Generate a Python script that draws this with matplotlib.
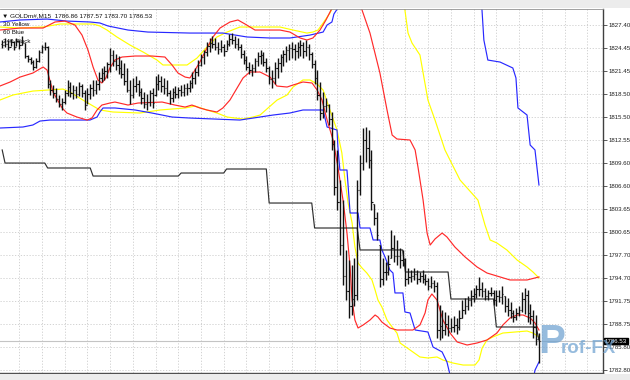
import numpy as np
import matplotlib
matplotlib.use("Agg")
import matplotlib.pyplot as plt
from matplotlib.patches import Rectangle
import matplotlib.transforms as mtransforms

# ---------------- data (GOLDm#, M15) ----------------
highs = [1825.5, 1825.7, 1825.5, 1825.6, 1825.3, 1825.7, 1825.5, 1826.0, 1825.1, 1823.5,
         1823.3, 1822.9, 1823.1, 1824.2, 1824.8, 1825.2, 1824.7, 1820.3, 1819.6, 1819.3,
         1818.4, 1818.0, 1819.0, 1820.3, 1820.0, 1819.6, 1819.5, 1820.0, 1819.8, 1819.0,
         1819.3, 1819.8, 1820.3, 1820.3, 1821.3, 1821.8, 1822.1, 1822.6, 1824.4, 1824.2,
         1823.7, 1823.4, 1822.9, 1822.5, 1821.8, 1820.3, 1820.5, 1820.8, 1820.3, 1819.3,
         1818.7, 1818.5, 1819.0, 1819.3, 1820.8, 1821.1, 1820.8, 1820.5, 1820.3, 1819.0,
         1819.3, 1819.5, 1819.4, 1819.6, 1819.8, 1819.9, 1820.3, 1821.3, 1821.8, 1822.9,
         1823.7, 1824.2, 1825.2, 1825.7, 1826.0, 1825.7, 1825.2, 1825.5, 1824.9, 1825.5,
         1826.2, 1826.4, 1826.0, 1825.7, 1824.9, 1824.2, 1823.4, 1822.6, 1822.4, 1823.1,
         1823.9, 1824.2, 1823.9, 1823.1, 1822.1, 1821.6, 1822.6, 1823.1, 1823.7, 1824.2,
         1824.7, 1824.9, 1825.2, 1824.9, 1825.2, 1825.5, 1825.2, 1825.5, 1824.9, 1823.9,
         1822.9, 1821.6, 1820.0, 1818.7, 1818.0, 1817.2, 1816.2, 1812.5, 1811.2, 1807.4,
         1804.8, 1798.3, 1797.0, 1796.4, 1797.3, 1807.4, 1810.6, 1814.1, 1814.2, 1813.8,
         1811.2, 1804.2, 1803.2, 1798.9, 1797.3, 1796.7, 1797.7, 1800.9, 1800.2, 1799.6,
         1798.6, 1798.3, 1797.3, 1796.0, 1795.7, 1796.0, 1795.7, 1795.5, 1795.7, 1795.2,
         1794.7, 1794.9, 1794.4, 1794.2, 1791.2, 1790.5, 1790.3, 1789.9, 1789.5, 1789.8,
         1789.5, 1790.5, 1791.8, 1792.1, 1792.4, 1793.1, 1793.4, 1793.8, 1794.8, 1794.2,
         1793.4, 1793.1, 1793.5, 1793.1, 1793.1, 1793.1, 1793.6, 1792.4, 1792.1, 1791.6,
         1790.5, 1790.8, 1791.1, 1792.9, 1793.4, 1793.1, 1791.3, 1790.5, 1789.9, 1787.57]

lows = [1824.4, 1824.6, 1824.2, 1824.7, 1824.2, 1824.7, 1824.3, 1824.8, 1823.1, 1822.6,
        1822.4, 1821.6, 1821.8, 1822.6, 1823.8, 1824.2, 1819.3, 1818.4, 1818.0, 1817.4,
        1816.8, 1816.4, 1817.2, 1818.2, 1818.1, 1817.8, 1818.0, 1818.2, 1818.1, 1816.4,
        1817.2, 1817.8, 1818.2, 1818.5, 1819.0, 1820.0, 1820.3, 1820.5, 1821.3, 1822.1,
        1821.6, 1821.1, 1820.5, 1819.6, 1818.7, 1817.2, 1818.0, 1818.7, 1818.2, 1817.2,
        1816.7, 1816.4, 1816.9, 1816.7, 1818.2, 1819.0, 1818.7, 1818.5, 1818.2, 1817.2,
        1817.4, 1818.0, 1818.0, 1818.2, 1818.2, 1818.4, 1818.7, 1819.3, 1819.8, 1820.8,
        1822.1, 1822.4, 1823.4, 1823.9, 1824.4, 1824.2, 1823.7, 1823.9, 1823.4, 1824.2,
        1824.7, 1824.9, 1824.4, 1824.2, 1823.1, 1822.4, 1821.6, 1821.1, 1820.8, 1821.3,
        1822.1, 1822.4, 1822.1, 1821.3, 1819.8, 1819.3, 1819.8, 1820.5, 1821.3, 1822.1,
        1822.6, 1822.9, 1823.1, 1822.9, 1823.1, 1823.4, 1823.1, 1823.4, 1822.9, 1821.8,
        1819.8, 1817.7, 1815.1, 1815.4, 1816.2, 1814.5, 1811.2, 1805.4, 1803.5, 1797.7,
        1793.8, 1791.8, 1789.5, 1789.9, 1791.1, 1791.8, 1805.4, 1808.6, 1809.7, 1808.9,
        1803.5, 1801.5, 1799.6, 1793.5, 1793.8, 1794.4, 1795.1, 1797.3, 1796.7, 1796.4,
        1796.0, 1796.2, 1793.6, 1793.9, 1794.2, 1794.4, 1793.9, 1794.2, 1794.0, 1793.8,
        1793.1, 1793.4, 1792.9, 1786.9, 1786.7, 1786.9, 1787.3, 1787.2, 1787.7, 1787.7,
        1787.4, 1788.0, 1789.5, 1790.0, 1790.5, 1791.1, 1791.6, 1792.1, 1792.4, 1792.2,
        1791.8, 1791.8, 1792.4, 1791.2, 1791.1, 1791.6, 1791.3, 1790.3, 1789.8, 1789.5,
        1789.0, 1789.3, 1789.8, 1790.3, 1790.0, 1789.0, 1788.7, 1786.9, 1786.0, 1783.70]

opens = [1825.0, 1824.8, 1825.0, 1824.6, 1825.2, 1824.5, 1825.3, 1824.8, 1825.1, 1823.4,
         1823.0, 1822.6, 1822.0, 1822.8, 1823.9, 1824.5, 1824.6, 1819.8, 1819.0, 1818.6,
         1817.8, 1817.2, 1817.5, 1818.6, 1819.4, 1818.6, 1819.0, 1818.5, 1819.5, 1818.6,
         1817.0, 1818.5, 1819.3, 1819.0, 1819.8, 1820.5, 1821.2, 1821.5, 1822.3, 1823.5,
         1822.8, 1822.2, 1821.8, 1821.0, 1820.2, 1819.0, 1818.3, 1819.5, 1819.8, 1818.8,
         1818.0, 1817.2, 1817.5, 1818.6, 1818.3, 1819.8, 1820.2, 1819.5, 1819.2, 1818.6,
         1818.0, 1818.7, 1818.5, 1819.0, 1818.8, 1819.3, 1819.2, 1819.9, 1820.6, 1821.3,
         1822.2, 1823.3, 1823.9, 1824.7, 1825.1, 1825.0, 1824.6, 1824.3, 1824.6, 1824.0,
         1825.0, 1825.6, 1825.4, 1825.0, 1824.6, 1823.6, 1822.9, 1822.0, 1821.6, 1821.9,
         1822.8, 1823.4, 1823.5, 1822.6, 1821.8, 1820.4, 1820.6, 1821.8, 1822.5, 1823.3,
         1823.6, 1824.2, 1824.4, 1824.3, 1824.0, 1824.6, 1824.8, 1824.0, 1824.6, 1823.6,
         1822.4, 1820.6, 1818.3, 1816.0, 1816.9, 1817.0, 1815.2, 1812.0, 1806.5, 1804.5,
         1799.0, 1795.0, 1793.0, 1791.0, 1792.0, 1792.5, 1806.0, 1809.5, 1812.5, 1811.5,
         1810.0, 1804.2, 1802.5, 1798.9, 1794.5, 1795.5, 1795.4, 1797.3, 1798.5, 1797.5,
         1797.5, 1797.0, 1797.2, 1794.6, 1794.8, 1795.0, 1795.2, 1794.6, 1795.0, 1794.6,
         1794.3, 1793.7, 1794.0, 1793.6, 1788.0, 1788.5, 1788.0, 1788.8, 1788.2, 1788.4,
         1788.6, 1788.3, 1789.5, 1790.6, 1791.0, 1791.8, 1792.3, 1792.6, 1793.2, 1793.3,
         1793.0, 1792.4, 1792.7, 1792.8, 1791.9, 1792.4, 1792.2, 1792.4, 1791.0, 1790.6,
         1790.2, 1789.6, 1790.2, 1790.6, 1792.0, 1792.5, 1790.2, 1789.8, 1788.3, 1786.86]

closes = [1824.8, 1825.0, 1824.6, 1825.2, 1824.5, 1825.3, 1824.8, 1825.1, 1823.4, 1823.0,
          1822.6, 1822.0, 1822.8, 1823.9, 1824.5, 1824.6, 1819.8, 1819.0, 1818.6, 1817.8,
          1817.2, 1817.5, 1818.6, 1819.4, 1818.6, 1819.0, 1818.5, 1819.5, 1818.6, 1817.0,
          1818.5, 1819.3, 1819.0, 1819.8, 1820.5, 1821.2, 1821.5, 1822.3, 1823.5, 1822.8,
          1822.2, 1821.8, 1821.0, 1820.2, 1819.0, 1818.3, 1819.5, 1819.8, 1818.8, 1818.0,
          1817.2, 1817.5, 1818.6, 1817.3, 1819.8, 1820.2, 1819.5, 1819.2, 1818.6, 1818.0,
          1818.7, 1818.5, 1819.0, 1818.8, 1819.3, 1819.2, 1819.9, 1820.6, 1821.3, 1822.2,
          1823.3, 1823.9, 1824.7, 1825.1, 1825.0, 1824.6, 1824.3, 1824.6, 1824.0, 1825.0,
          1825.6, 1825.4, 1825.0, 1824.6, 1823.6, 1822.9, 1822.0, 1821.6, 1821.9, 1822.8,
          1823.4, 1823.5, 1822.6, 1821.8, 1820.4, 1820.6, 1821.8, 1822.5, 1823.3, 1823.6,
          1824.2, 1824.4, 1824.3, 1824.0, 1824.6, 1824.8, 1824.0, 1824.6, 1823.6, 1822.4,
          1820.6, 1818.3, 1816.0, 1816.9, 1817.0, 1815.2, 1812.0, 1806.5, 1804.5, 1799.0,
          1795.0, 1793.0, 1791.0, 1792.0, 1792.5, 1806.0, 1809.5, 1812.5, 1811.5, 1810.0,
          1804.5, 1802.5, 1800.2, 1794.5, 1795.5, 1795.4, 1796.5, 1798.5, 1797.5, 1797.5,
          1797.0, 1797.2, 1794.6, 1794.8, 1795.0, 1795.2, 1794.6, 1795.0, 1794.6, 1794.3,
          1793.7, 1794.0, 1793.6, 1788.0, 1788.5, 1788.0, 1788.8, 1788.2, 1788.4, 1788.6,
          1788.3, 1789.5, 1790.6, 1791.0, 1791.8, 1792.3, 1792.6, 1793.2, 1793.3, 1793.0,
          1792.4, 1792.7, 1792.8, 1791.9, 1792.4, 1792.2, 1792.6, 1791.0, 1790.6, 1790.2,
          1789.6, 1790.2, 1790.6, 1792.0, 1792.5, 1790.2, 1789.8, 1788.3, 1786.86, 1786.53]

# Bollinger-type envelopes (bar index, price)
red_up_x = [-0.8, 6.3, 14.4, 18.6, 22.1, 25.6, 28.1, 30.2, 32.0, 33.7, 35.1, 36.5, 37.9, 39.7,
            42.2, 46.8, 52.7, 57.3, 59.8, 61.9, 64.4, 66.1, 67.9, 69.6, 72.1, 74.2, 76.7, 80.2,
            83.0, 85.5, 89.0, 93.2, 97.8, 101.3, 104.9, 107.3, 109.4, 111.9, 114.0, 115.8, 117.5,
            125.3, 126.7, 129.5, 133.0, 135.5, 137.3, 139.0, 143.6, 145.4, 146.4, 148.2, 149.6,
            150.7, 152.4, 154.9, 156.6, 159.4, 163.0, 167.2, 170.7, 175.3, 178.8, 184.8, 189.0]
red_up_y = [1826.75, 1827.01, 1827.01, 1827.79, 1827.91, 1827.40, 1826.10, 1824.17, 1821.97,
            1820.29, 1819.90, 1820.55, 1821.84, 1822.87, 1823.26, 1823.39, 1823.39, 1823.26,
            1822.23, 1821.19, 1820.67, 1820.55, 1821.58, 1822.61, 1824.42, 1825.85, 1827.01,
            1827.79, 1828.05, 1827.53, 1826.75, 1826.75, 1826.75, 1826.49, 1825.72, 1825.46,
            1825.72, 1826.75, 1828.05, 1829.34, 1831.28, 1831.28, 1829.34, 1826.36, 1821.19,
            1816.41, 1813.17, 1812.66, 1812.53, 1811.24, 1809.04, 1804.77, 1800.50, 1798.95,
            1799.73, 1800.50, 1799.99, 1798.69, 1797.40, 1796.11, 1795.33, 1794.82, 1794.43,
            1794.43, 1794.82]

red_lo_x = [-0.8, 2.8, 6.3, 10.8, 14.4, 15.8, 17.9, 21.1, 22.8, 26.3, 29.9, 31.6, 33.4, 35.1,
            37.9, 39.7, 44.3, 47.8, 56.3, 60.8, 64.4, 66.8, 69.6, 72.1, 75.6, 77.7, 80.2, 82.7,
            84.8, 87.2, 90.8, 94.3, 96.7, 100.3, 102.4, 105.9, 109.1, 110.9, 112.6, 114.4,
            116.5, 118.2, 120.0, 121.4, 122.5, 123.2, 124.2, 125.3, 127.1, 129.5, 131.3, 132.3,
            133.7, 136.5, 139.0, 144.6, 147.1, 148.9, 149.9, 151.3, 153.1, 155.2, 157.7, 160.2,
            163.7, 167.2, 170.7, 174.2, 176.3, 178.8, 181.3, 183.4, 185.9, 187.6, 189.0]
red_lo_y = [1819.51, 1820.03, 1820.67, 1821.19, 1821.97, 1821.58, 1818.73, 1816.67, 1816.02,
            1815.50, 1815.11, 1815.37, 1816.41, 1817.05, 1817.31, 1817.44, 1817.05, 1817.31,
            1817.44, 1817.05, 1816.79, 1817.05, 1816.67, 1816.41, 1816.15, 1816.67, 1817.70,
            1819.25, 1820.55, 1821.32, 1821.32, 1820.67, 1819.51, 1819.38, 1819.64, 1820.03,
            1819.90, 1818.99, 1817.70, 1815.11, 1812.53, 1809.04, 1804.77, 1800.50, 1796.11,
            1791.84, 1789.25, 1788.22, 1788.61, 1789.25, 1789.90, 1789.64, 1788.99, 1788.22,
            1787.96, 1787.96, 1788.61, 1790.16, 1791.84, 1792.62, 1791.84, 1789.25, 1787.57,
            1786.41, 1786.02, 1786.28, 1786.67, 1787.57, 1788.61, 1789.51, 1789.90, 1789.90,
            1789.51, 1788.87, 1787.96]

yel_up_x = [-0.8, 6.3, 14.4, 20.4, 32.0, 34.4, 36.9, 40.4, 45.0, 49.6, 54.5, 56.6, 65.1, 68.6,
            72.1, 75.6, 79.2, 83.7, 97.8, 102.4, 107.3, 109.4, 111.2, 113.0, 115.4, 116.8,
            117.9, 140.1, 141.8, 142.9, 144.3, 147.1, 149.9, 152.4, 155.9, 161.2, 167.5, 170.0,
            171.8, 174.2, 177.7, 181.3, 184.8, 186.9, 189.0]
yel_up_y = [1827.14, 1827.01, 1827.14, 1827.53, 1827.53, 1827.27, 1826.75, 1825.85, 1824.81,
            1823.91, 1822.87, 1822.23, 1822.23, 1823.13, 1824.55, 1825.85, 1826.49, 1827.14,
            1827.14, 1826.75, 1826.36, 1826.49, 1826.75, 1827.66, 1828.95, 1829.98, 1831.28,
            1831.28, 1829.34, 1826.36, 1825.07, 1823.52, 1817.70, 1815.11, 1811.24, 1807.36,
            1804.77, 1801.54, 1799.60, 1799.21, 1798.31, 1797.01, 1796.11, 1795.46, 1794.69]

yel_lo_x = [-0.8, 3.8, 10.8, 21.4, 23.9, 28.4, 34.4, 39.0, 48.5, 55.6, 64.4, 67.9, 72.1, 75.6,
            79.2, 84.8, 88.3, 90.8, 93.6, 96.8, 100.3, 102.4, 105.9, 108.4, 110.9, 113.0,
            115.4, 117.9, 119.6, 120.7, 121.8, 123.2, 124.2, 125.3, 126.7, 128.4, 130.2, 131.3,
            132.3, 133.7, 135.5, 137.3, 139.0, 140.1, 143.6, 147.1, 149.9, 153.1, 155.2, 158.7,
            162.3, 166.5, 167.9, 169.0, 170.7, 172.8, 176.3, 180.6, 184.8, 186.9, 189.0]
yel_lo_y = [1817.70, 1818.35, 1818.86, 1819.12, 1818.73, 1817.70, 1816.41, 1816.15, 1816.02,
            1816.41, 1816.67, 1816.92, 1816.41, 1816.02, 1815.50, 1815.24, 1815.50, 1815.76,
            1816.67, 1817.70, 1818.35, 1819.38, 1820.29, 1820.29, 1819.77, 1818.99, 1816.41,
            1813.82, 1810.85, 1807.36, 1804.38, 1801.80, 1798.69, 1796.62, 1795.98, 1795.33,
            1794.43, 1793.13, 1791.84, 1790.93, 1789.25, 1788.35, 1787.57, 1786.28, 1785.38,
            1784.47, 1784.34, 1784.47, 1784.08, 1783.69, 1783.43, 1783.43, 1784.08, 1785.63,
            1786.67, 1787.06, 1787.57, 1787.70, 1787.83, 1787.57, 1787.06]

blu_up_x = [-0.8, 6.3, 15.8, 22.8, 30.9, 34.4, 37.3, 40.8, 44.3, 51.3, 66.1, 77.7, 86.2, 94.3,
            101.3, 108.4, 113.0, 114.4, 116.1, 116.8, 118.2, 118.9, 167.5, 168.9, 169.6, 171.0,
            175.3, 179.8, 180.9, 181.6, 184.8, 185.9, 187.6, 189.0]
blu_up_y = [1827.79, 1828.05, 1828.17, 1827.91, 1827.79, 1827.66, 1827.27, 1827.01, 1826.75,
            1826.49, 1826.36, 1826.36, 1825.85, 1825.72, 1825.72, 1826.10, 1826.49, 1827.40,
            1827.79, 1828.82, 1829.60, 1831.28, 1831.28, 1829.60, 1825.46, 1822.87, 1822.61,
            1821.84, 1820.55, 1816.67, 1815.76, 1811.88, 1811.24, 1806.71]

blu_lo_x = [-0.8, 7.3, 10.8, 13.3, 16.8, 30.9, 33.4, 34.4, 35.5, 39.7, 46.8, 52.7, 59.8, 66.1,
            83.7, 95.4, 101.3, 105.9, 113.0, 114.4, 117.9, 118.2, 118.9, 121.4, 122.5, 125.3,
            126.0, 129.5, 130.6, 133.0, 133.7, 134.8, 136.5, 137.6, 138.3, 141.1, 141.8, 143.6,
            145.4, 149.9, 151.7, 154.9, 156.6, 157.7, 158.4, 186.6, 187.6, 189.0]
blu_lo_y = [1814.08, 1814.21, 1814.47, 1814.98, 1815.11, 1815.11, 1815.50, 1816.15, 1816.67,
            1816.67, 1816.41, 1816.02, 1815.50, 1815.37, 1815.11, 1815.76, 1816.02, 1816.41,
            1816.41, 1814.21, 1813.82, 1811.62, 1808.65, 1808.65, 1803.09, 1803.09, 1801.15,
            1801.15, 1799.60, 1799.60, 1798.31, 1797.40, 1795.72, 1795.33, 1792.75, 1792.75,
            1790.29, 1790.16, 1787.96, 1787.70, 1785.76, 1785.12, 1783.82, 1782.14, 1780.85,
            1780.85, 1782.76, 1783.82]

# H4 (240) line: level values and the bar where each level starts
black_levels = [1811.24, 1809.55, 1808.91, 1807.87, 1808.26, 1808.78, 1804.38, 1801.15,
                1798.31, 1795.46, 1791.97, 1788.35, 1786.67]
black_starts = [0, 1, 16, 32, 63, 79, 94, 110, 126, 142, 158, 174, 189]

ytick_vals = [1827.40, 1824.45, 1821.45, 1818.50, 1815.50, 1812.55, 1809.60, 1806.60,
              1803.65, 1800.65, 1797.70, 1794.70, 1791.75, 1788.75, 1785.80, 1782.80]
ytick_labels = ["1827.40", "1824.45", "1821.45", "1818.50", "1815.50", "1812.55", "1809.60",
                "1806.60", "1803.65", "1800.65", "1797.70", "1794.70", "1791.75", "1788.75",
                "1785.80", "1782.80"]
bid_price = 1786.53
header = "\u25BC GOLDm#,M15  1786.86 1787.57 1783.70 1786.53"
legend_items = ["30 Yellow", "60 Blue", "240 Black"]

# ---------------- figure ----------------
W, H = 630, 380
fig = plt.figure(figsize=(W / 100, H / 100), dpi=100)
fig.patch.set_facecolor("white")
fig.patches.append(Rectangle((0, 1 - 8 / H), 1, 8 / H, transform=fig.transFigure,
                             facecolor="#ececec", edgecolor="none", zorder=0))
fig.patches.append(Rectangle((0, 0), 1, 6 / H, transform=fig.transFigure,
                             facecolor="#ececec", edgecolor="none", zorder=0))

ax = fig.add_axes([0, 7 / H, 603 / W, 364 / H])
ax.set_facecolor("white")
ax.set_xlim(-0.775, 211.55)
ax.set_ylim(1782.40, 1829.47)

FONT = ["Liberation Sans", "DejaVu Sans"]

# grid
ax.set_xticks(np.arange(6, 212, 8))
ax.tick_params(axis="x", length=0, labelbottom=False)
ax.yaxis.tick_right()
ax.set_yticks(ytick_vals)
ax.set_yticklabels(ytick_labels, fontfamily=FONT, fontsize=4.4, color="#202020")
ax.tick_params(axis="y", length=3, width=0.6, color="#404040", pad=1)
ax.grid(True, color="#c6c6c6", linestyle=(0, (1.6, 2.2)), linewidth=0.55, zorder=0)
ax.set_axisbelow(True)

ax.spines["left"].set_visible(False)
ax.spines["right"].set_color("#404040")
ax.spines["right"].set_linewidth(1.0)
ax.spines["bottom"].set_color("#505050")
ax.spines["bottom"].set_linewidth(1.0)
ax.spines["top"].set_color("#909090")
ax.spines["top"].set_linewidth(0.6)

# bid line
ax.axhline(bid_price, color="#c4c4c4", lw=0.8, zorder=1)

n = len(highs)
x = np.arange(n)

# indicator lines
lw = 0.85
ax.plot(yel_up_x, yel_up_y, color="#ffff00", lw=lw, zorder=2)
ax.plot(yel_lo_x, yel_lo_y, color="#ffff00", lw=lw, zorder=2)
ax.plot(blu_up_x, blu_up_y, color="#2828ff", lw=lw, zorder=2)
ax.plot(blu_lo_x, blu_lo_y, color="#2828ff", lw=lw, zorder=2)
ax.plot(red_up_x, red_up_y, color="#ff2a2a", lw=lw, zorder=2)
ax.plot(red_lo_x, red_lo_y, color="#ff2a2a", lw=lw, zorder=2)

counts = np.diff(black_starts + [n])
black_vals = np.repeat(black_levels, counts)
ax.plot(x, black_vals, color="#303030", lw=0.85, zorder=2)

# OHLC bars
ax.vlines(x, lows, highs, color="#111111", lw=1.0, zorder=3)
ax.hlines(opens, x - 0.45, x, color="#111111", lw=0.8, zorder=3)
ax.hlines(closes, x, x + 0.45, color="#111111", lw=0.8, zorder=3)

# current price box
trans = mtransforms.blended_transform_factory(ax.transAxes, ax.transData)
ax.text(1.003, bid_price, "1786.53", transform=trans, fontsize=4.4, fontfamily=FONT,
        color="white", va="center", ha="left", zorder=10, clip_on=False,
        bbox=dict(boxstyle="square,pad=0.15", facecolor="black", edgecolor="black"))

# header and legend
fig.text(2 / W, 1 - 15.5 / H, header, fontsize=4.6, fontfamily=FONT, color="#101010",
         va="center", ha="left")
for k, lab in enumerate(legend_items):
    fig.text(3 / W, 1 - (24.5 + 8.5 * k) / H, lab, fontsize=4.5, fontfamily=FONT,
             color="#101010", va="center", ha="left")

# watermark
fig.text(538 / W, 1 - 353 / H, "P", fontsize=29, fontweight="bold", fontfamily=FONT,
         color="#6a9fcf", alpha=0.7, va="baseline", ha="left", zorder=20)
fig.text(561 / W, 1 - 353 / H, "rof-FX", fontsize=13.5, fontweight="bold", fontfamily=FONT,
         color="#6a9fcf", alpha=0.7, va="baseline", ha="left", zorder=20)

fig.savefig("out.png", dpi=100, facecolor=fig.get_facecolor())
